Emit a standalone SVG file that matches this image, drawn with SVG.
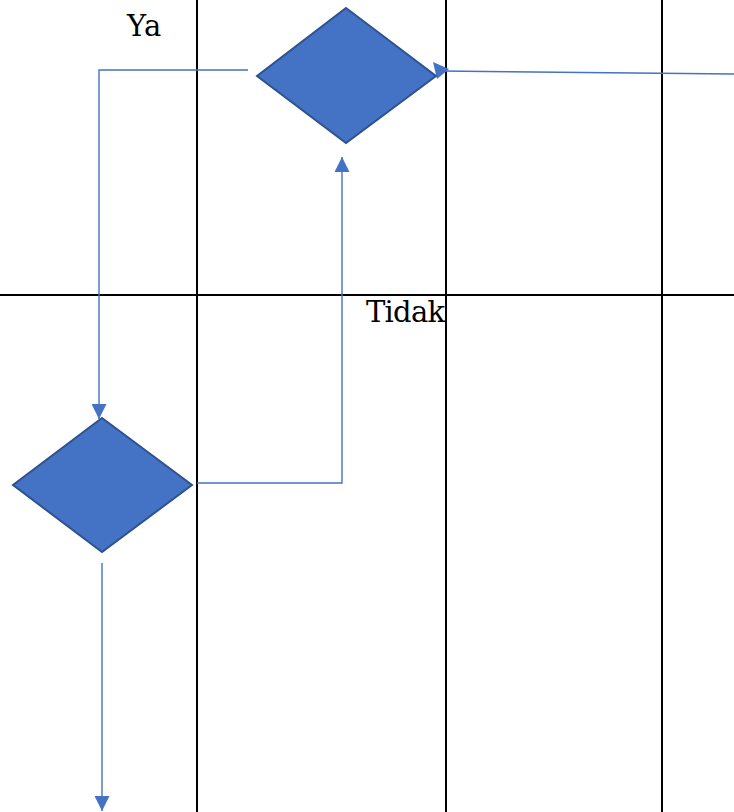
<svg xmlns="http://www.w3.org/2000/svg" width="734" height="812" viewBox="0 0 734 812">
<defs>
<style>
.grid{stroke:#000;stroke-width:2;fill:none}
.dec{fill:#4472C4;stroke:#2F528F;stroke-width:2}
.con{fill:none;stroke:#4472C4;stroke-width:1.4}
.lbl{font-family:"DejaVu Serif",serif;font-size:29px;fill:#000}
</style>
<marker id="ah" viewBox="0 0 10 10" refX="10" refY="5" markerWidth="15" markerHeight="15" markerUnits="userSpaceOnUse" orient="auto">
<path d="M0,0 L10,5 L0,10 Z" fill="#4472C4"/>
</marker>
</defs>
<rect width="734" height="812" fill="#fff"/>
<g id="grid">
<line class="grid" x1="197" y1="0" x2="197" y2="812"/>
<line class="grid" x1="446" y1="0" x2="446" y2="812"/>
<line class="grid" x1="662" y1="0" x2="662" y2="812"/>
<line class="grid" x1="0" y1="295" x2="734" y2="295"/>
</g>
<g id="connectors">
<polyline class="con" points="248,70 99,70 99,419" marker-end="url(#ah)"/>
<polyline class="con" points="197,483 342,483 342,157" marker-end="url(#ah)"/>
<line class="con" x1="734" y1="74" x2="440" y2="71"/>
<path d="M433,62 L449,69 L437,79 Z" fill="#4472C4"/>
<line class="con" x1="102" y1="563" x2="102" y2="811" marker-end="url(#ah)"/>
</g>
<g id="decision1">
<polygon class="dec" points="346,8 436,76 346,143 257,76"/>
</g>
<g id="decision2">
<polygon class="dec" points="102,418 192,485 102,552 13,485"/>
</g>
<g id="labels">
<text class="lbl" x="127" y="36">Ya</text>
<text class="lbl" x="366" y="322" textLength="79">Tidak</text>
</g>
</svg>
